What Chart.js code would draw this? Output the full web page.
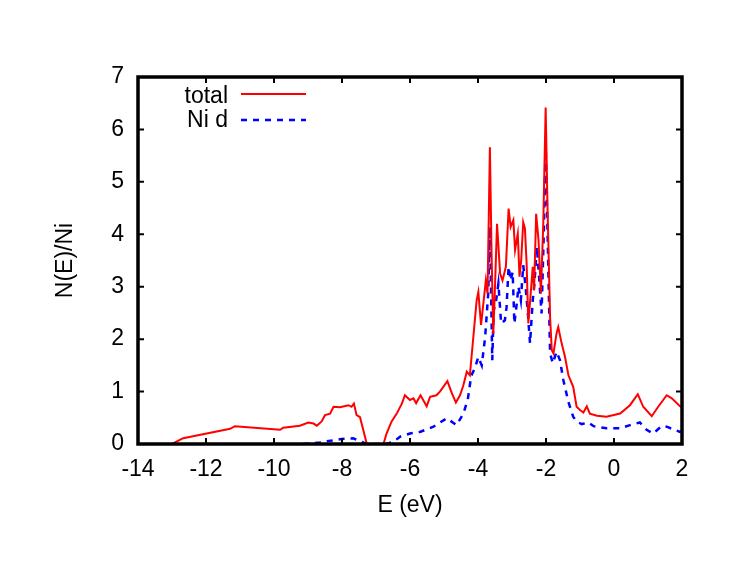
<!DOCTYPE html>
<html>
<head>
<meta charset="utf-8">
<script src="https://cdn.jsdelivr.net/npm/chart.js@4"></script>
<style>
  html, body { margin: 0; padding: 0; background: #ffffff; }
  #wrap { width: 747px; height: 578px; }
</style>
</head>
<body>
<div id="wrap"><canvas id="c" width="747" height="578"></canvas></div>
<script>
// ---- Data ----
const totalE = [-13.0, -12.67, -11.98, -11.29, -11.15, -9.82, -9.73, -9.24, -8.99, -8.84, -8.74, -8.6, -8.5, -8.35, -8.25, -8.06, -7.81, -7.72, -7.65, -7.57, -7.47, -7.27, -6.78, -6.69, -6.54, -6.39, -6.24, -6.15, -6.0, -5.9, -5.82, -5.69, -5.51, -5.41, -5.22, -5.12, -5.02, -4.9, -4.77, -4.65, -4.53, -4.43, -4.33, -4.24, -4.19, -4.04, -3.99, -3.91, -3.77, -3.72, -3.65, -3.6, -3.55, -3.5, -3.44, -3.35, -3.28, -3.18, -3.1, -3.04, -2.96, -2.91, -2.83, -2.78, -2.73, -2.67, -2.62, -2.57, -2.52, -2.45, -2.39, -2.35, -2.29, -2.22, -2.15, -2.08, -2.01, -1.96, -1.88, -1.83, -1.78, -1.69, -1.64, -1.54, -1.44, -1.34, -1.2, -1.1, -1.0, -0.9, -0.8, -0.71, -0.5, -0.22, 0.18, 0.47, 0.7, 0.86, 1.11, 1.3, 1.55, 1.7, 1.94, 2.0];
const totalN = [0, 0.11, 0.2, 0.29, 0.34, 0.27, 0.31, 0.35, 0.41, 0.39, 0.35, 0.43, 0.55, 0.58, 0.71, 0.70, 0.74, 0.71, 0.77, 0.55, 0.51, 0, 0, 0.2, 0.43, 0.58, 0.77, 0.93, 0.84, 0.87, 0.78, 0.93, 0.72, 0.9, 0.93, 1.0, 1.09, 1.2, 0.97, 0.79, 0.93, 1.12, 1.38, 1.31, 1.66, 2.74, 2.9, 2.27, 3.12, 2.87, 5.66, 3.6, 2.1, 3.0, 4.2, 3.25, 3.12, 3.38, 4.49, 4.14, 4.27, 3.7, 4.01, 3.19, 3.5, 4.23, 4.11, 3.44, 2.3, 2.87, 3.38, 2.93, 4.39, 3.89, 2.87, 4.2, 6.42, 4.65, 2.42, 1.79, 1.73, 2.11, 2.23, 1.92, 1.66, 1.31, 1.09, 0.71, 0.65, 0.6, 0.72, 0.58, 0.54, 0.52, 0.58, 0.74, 0.95, 0.71, 0.53, 0.71, 0.93, 0.87, 0.72, 0.7];

const nidE = [-9.15, -8.65, -8.06, -7.9, -7.67, -7.42, -7.27, -6.7, -6.49, -6.29, -6.0, -5.71, -5.31, -4.92, -4.63, -4.43, -4.3, -4.2, -4.09, -3.99, -3.89, -3.79, -3.7, -3.65, -3.58, -3.54, -3.48, -3.4, -3.32, -3.21, -3.16, -3.1, -3.04, -2.98, -2.93, -2.86, -2.81, -2.74, -2.67, -2.6, -2.54, -2.47, -2.39, -2.34, -2.27, -2.21, -2.13, -2.06, -2.01, -1.95, -1.88, -1.8, -1.69, -1.59, -1.54, -1.49, -1.34, -1.2, -1.1, -0.95, -0.75, -0.6, -0.22, 0.18, 0.47, 0.76, 0.96, 1.15, 1.4, 1.55, 1.94, 2.0];
const nidN = [0, 0.03, 0.09, 0.1, 0.11, 0.04, 0, 0, 0.04, 0.14, 0.2, 0.23, 0.33, 0.49, 0.36, 0.58, 0.85, 1.3, 1.45, 1.66, 1.5, 2.04, 2.87, 4.14, 1.6, 2.55, 2.68, 3.06, 2.3, 2.36, 2.61, 3.38, 3.12, 3.28, 2.3, 2.68, 3.0, 2.74, 3.41, 3.0, 2.55, 1.92, 2.74, 3.06, 3.76, 3.25, 2.49, 4.14, 5.73, 3.89, 1.73, 1.54, 1.76, 1.6, 1.41, 1.22, 0.8, 0.52, 0.43, 0.38, 0.41, 0.34, 0.3, 0.3, 0.36, 0.41, 0.27, 0.2, 0.34, 0.33, 0.23, 0.25];

const seriesNames = ['total', 'Ni d'];
const xTickMin = -14, xTickMax = 2, xTickStep = 2;
const yTickMin = 0, yTickMax = 7, yTickStep = 1;

const FONT = '"Liberation Sans", Arial, Helvetica, sans-serif';

function pts(xs, ys) { return xs.map((x, i) => ({ x: x, y: ys[i] })); }

// Frame, inward ticks and legend
const framePlugin = {
  id: 'framePlugin',
  afterDatasetsDraw(chart) {
    const ctx = chart.ctx;
    const a = chart.chartArea;
    const xs = chart.scales.x, ys = chart.scales.y;
    ctx.save();
    ctx.strokeStyle = '#000';
    ctx.lineWidth = 2;
    const tl = 6;
    xs.ticks.forEach(t => {
      const p = xs.getPixelForValue(t.value);
      if (p <= a.left + 1 || p >= a.right - 1) return;
      ctx.beginPath();
      ctx.moveTo(p, a.bottom); ctx.lineTo(p, a.bottom - tl);
      ctx.moveTo(p, a.top); ctx.lineTo(p, a.top + tl);
      ctx.stroke();
    });
    ys.ticks.forEach(t => {
      const p = ys.getPixelForValue(t.value);
      if (p <= a.top + 1 || p >= a.bottom - 1) return;
      ctx.beginPath();
      ctx.moveTo(a.left, p); ctx.lineTo(a.left + tl, p);
      ctx.moveTo(a.right, p); ctx.lineTo(a.right - tl, p);
      ctx.stroke();
    });
    ctx.lineWidth = 3.5;
    ctx.strokeRect(a.left, a.top, a.right - a.left, a.bottom - a.top);

    // legend
    ctx.font = '23px ' + FONT;
    ctx.textAlign = 'right';
    ctx.textBaseline = 'alphabetic';
    ctx.fillStyle = '#000';
    const ds = chart.data.datasets;
    const lineY = [94, 120];
    const textY = [103, 127];
    ds.forEach((d, i) => {
      ctx.fillText(d.label, 228, textY[i]);
      ctx.beginPath();
      ctx.lineWidth = d.borderWidth;
      ctx.strokeStyle = d.borderColor;
      ctx.setLineDash(d.borderDash || []);
      ctx.moveTo(241, lineY[i]); ctx.lineTo(306, lineY[i]);
      ctx.stroke();
      ctx.setLineDash([]);
    });
    ctx.restore();
  }
};

new Chart(document.getElementById('c'), {
  type: 'line',
  data: {
    datasets: [
      {
        label: seriesNames[0],
        data: pts(totalE, totalN),
        borderColor: '#ff0000',
        borderWidth: 2,
        pointRadius: 0,
        tension: 0,
        fill: false
      },
      {
        label: seriesNames[1],
        data: pts(nidE, nidN),
        borderColor: '#0000ff',
        borderWidth: 2.5,
        borderDash: [6, 6],
        pointRadius: 0,
        tension: 0,
        fill: false
      }
    ]
  },
  options: {
    responsive: false,
    animation: false,
    devicePixelRatio: 1,
    layout: { padding: { top: 77, right: 65, left: 0, bottom: 0 } },
    plugins: { legend: { display: false }, tooltip: { enabled: false } },
    scales: {
      x: {
        type: 'linear',
        min: xTickMin, max: xTickMax,
        grid: { display: false, drawTicks: false },
        border: { display: false },
        ticks: { stepSize: xTickStep, color: '#000', font: { family: FONT, size: 23 }, padding: 12, maxRotation: 0 },
        title: { display: true, text: 'E (eV)', color: '#000', font: { family: FONT, size: 23 }, padding: { top: 0, bottom: 59 } },
        afterFit(s) { s.height = 134; }
      },
      y: {
        type: 'linear',
        min: yTickMin, max: yTickMax,
        grid: { display: false, drawTicks: false },
        border: { display: false },
        ticks: { stepSize: yTickStep, color: '#000', font: { family: FONT, size: 23 }, padding: 14 },
        title: { display: true, text: 'N(E)/Ni', color: '#000', font: { family: FONT, size: 23 }, padding: { top: 52, bottom: 0 } },
        afterFit(s) { s.width = 138; }
      }
    }
  },
  plugins: [framePlugin]
});
</script>
</body>
</html>
